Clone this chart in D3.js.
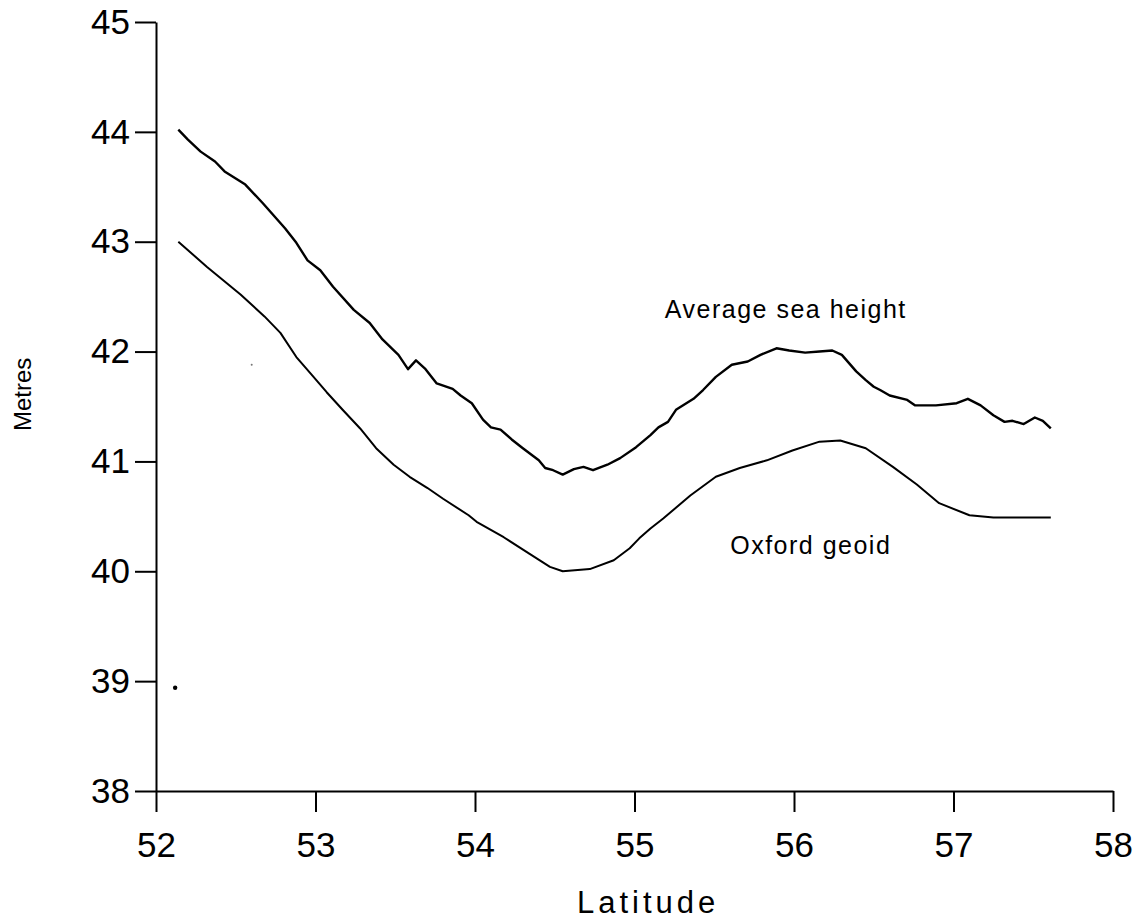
<!DOCTYPE html>
<html>
<head>
<meta charset="utf-8">
<script src="https://cdn.jsdelivr.net/npm/d3@7"></script>
<style>
  html, body { margin: 0; padding: 0; background: #fff; }
  svg { display: block; }
  text { font-family: "Liberation Sans", Arial, Helvetica, sans-serif; fill: #000; }
</style>
</head>
<body>
<svg id="chart" width="1142" height="923"></svg>
<script>
// Latitude (degrees) and height (metres) for the averaged sea surface
const seaLat = [52.14, 52.20, 52.28, 52.37, 52.43, 52.56, 52.67, 52.81, 52.88, 52.95,
  53.03, 53.11, 53.24, 53.34, 53.42, 53.52, 53.58, 53.63, 53.69, 53.76,
  53.86, 53.91, 53.98, 54.05, 54.10, 54.16, 54.23, 54.30, 54.40, 54.44,
  54.49, 54.55, 54.62, 54.68, 54.74, 54.83, 54.91, 55.01, 55.10, 55.15,
  55.21, 55.26, 55.37, 55.43, 55.51, 55.61, 55.71, 55.79, 55.89, 55.97,
  56.07, 56.16, 56.24, 56.30, 56.39, 56.45, 56.50, 56.54, 56.60, 56.71,
  56.76, 56.89, 57.02, 57.09, 57.17, 57.25, 57.32, 57.37, 57.44, 57.51,
  57.56, 57.61];
const seaHeight = [44.02, 43.93, 43.82, 43.73, 43.64, 43.52, 43.35, 43.12, 42.99, 42.83,
  42.74, 42.59, 42.38, 42.26, 42.11, 41.97, 41.84, 41.92, 41.84, 41.71,
  41.66, 41.60, 41.53, 41.38, 41.31, 41.29, 41.20, 41.12, 41.01, 40.94,
  40.92, 40.88, 40.93, 40.95, 40.92, 40.97, 41.03, 41.13, 41.24, 41.31,
  41.36, 41.47, 41.57, 41.65, 41.77, 41.88, 41.91, 41.97, 42.03, 42.01,
  41.99, 42.00, 42.01, 41.97, 41.82, 41.74, 41.68, 41.65, 41.60, 41.56,
  41.51, 41.51, 41.53, 41.57, 41.51, 41.42, 41.36, 41.37, 41.34, 41.40,
  41.37, 41.30];

// Latitude (degrees) and geoid height (metres) for the Oxford geoid
const geoidLat = [52.14, 52.32, 52.53, 52.68, 52.78, 52.88, 52.97, 53.07, 53.17, 53.28,
  53.38, 53.49, 53.59, 53.70, 53.80, 53.96, 54.01, 54.18, 54.34, 54.47,
  54.55, 54.72, 54.87, 54.97, 55.03, 55.10, 55.18, 55.35, 55.51, 55.66,
  55.83, 55.99, 56.16, 56.29, 56.45, 56.62, 56.77, 56.91, 57.10, 57.25,
  57.61];
const geoidHeight = [43.00, 42.77, 42.52, 42.32, 42.17, 41.95, 41.80, 41.63, 41.47, 41.30,
  41.12, 40.97, 40.86, 40.76, 40.66, 40.51, 40.45, 40.31, 40.16, 40.04,
  40.00, 40.02, 40.10, 40.21, 40.30, 40.39, 40.48, 40.69, 40.86, 40.94,
  41.01, 41.10, 41.18, 41.19, 41.12, 40.95, 40.79, 40.62, 40.51, 40.49,
  40.49];

// Isolated specks on the plot area
const speckLat = [52.12, 52.60];
const speckHeight = [38.94, 41.88];

const xTicks = [52, 53, 54, 55, 56, 57, 58];
const yTicks = [38, 39, 40, 41, 42, 43, 44, 45];

const seriesLabels = ["Average sea height", "Oxford geoid"];
const labelLat = [55.19, 55.60];
const labelHeight = [42.31, 40.16];

const svg = d3.select("#chart");

const x = d3.scaleLinear().domain([52, 58]).range([156, 1113]);
const y = d3.scaleLinear().domain([38, 45]).range([791, 22]);

// Axes
const xAxis = d3.axisBottom(x).tickValues(xTicks).tickFormat(d3.format("d"))
  .tickSize(21).tickSizeOuter(0).tickPadding(20);
const yAxis = d3.axisLeft(y).tickValues(yTicks).tickFormat(d3.format("d"))
  .tickSize(21).tickSizeOuter(0).tickPadding(5);

const gx = svg.append("g").attr("transform", `translate(0,${y(38)})`).call(xAxis);
const gy = svg.append("g").attr("transform", `translate(${x(52)},0)`).call(yAxis);

[gx, gy].forEach(g => {
  g.select(".domain").attr("stroke", "#000").attr("stroke-width", 2);
  g.selectAll(".tick line").attr("stroke", "#000").attr("stroke-width", 2);
  g.selectAll(".tick text")
    .attr("fill", "#000")
    .style("font-family", "'Liberation Sans', Arial, sans-serif")
    .style("font-size", "35px");
});

// Curves
const line = d3.line().x(d => x(d[0])).y(d => y(d[1]));
const seaData = d3.zip(seaLat, seaHeight);
const geoidData = d3.zip(geoidLat, geoidHeight);

svg.append("path").datum(seaData)
  .attr("d", line)
  .attr("fill", "none").attr("stroke", "#000")
  .attr("stroke-width", 2.4).attr("stroke-linejoin", "round");

svg.append("path").datum(geoidData)
  .attr("d", line)
  .attr("fill", "none").attr("stroke", "#000")
  .attr("stroke-width", 2).attr("stroke-linejoin", "round");

// Specks
svg.selectAll("circle.speck").data(d3.zip(speckLat, speckHeight))
  .join("circle").attr("class", "speck")
  .attr("cx", d => x(d[0])).attr("cy", d => y(d[1]))
  .attr("r", (d, i) => i === 0 ? 2.2 : 1)
  .attr("fill", (d, i) => i === 0 ? "#000" : "#777");

// Series labels
svg.selectAll("text.series").data(seriesLabels)
  .join("text").attr("class", "series")
  .attr("x", (d, i) => x(labelLat[i]))
  .attr("y", (d, i) => y(labelHeight[i]))
  .style("font-size", "25px")
  .style("letter-spacing", "1.5px")
  .text(d => d);

// Axis titles
svg.append("text")
  .attr("x", 577).attr("y", 913)
  .style("font-size", "31px")
  .style("letter-spacing", "4px")
  .text("Latitude");

svg.append("text")
  .attr("transform", "translate(31,431) rotate(-90)")
  .style("font-size", "24px")
  .style("letter-spacing", "0px")
  .text("Metres");
</script>
</body>
</html>
